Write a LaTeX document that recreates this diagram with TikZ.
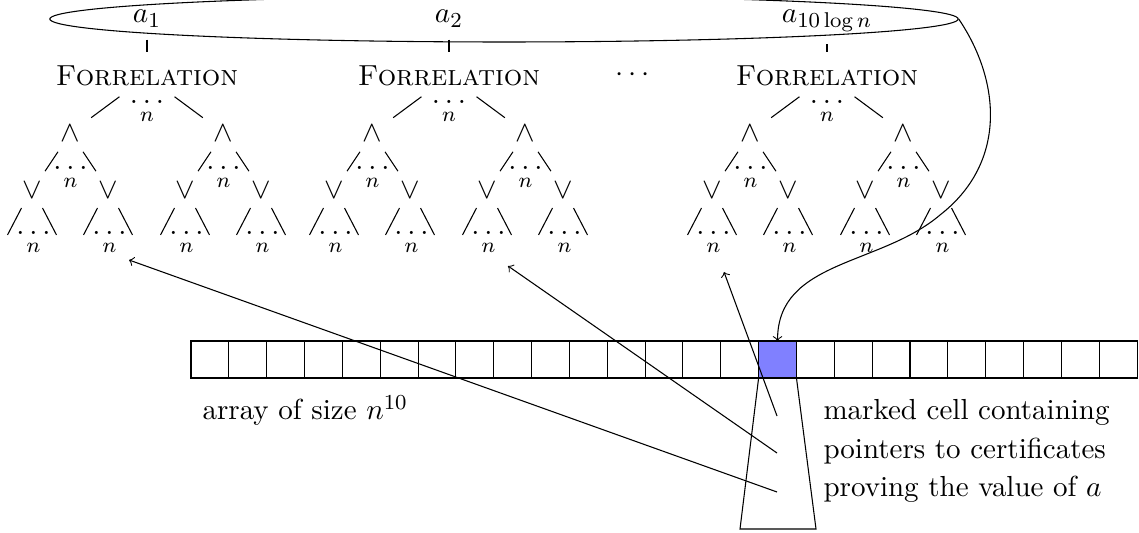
\documentclass[tikz,border=0pt]{standalone}
\usepackage{amsmath}
\usetikzlibrary{shapes.geometric,calc}
\begin{document}
\fontsize{10.85pt}{13pt}\selectfont
\begin{tikzpicture}[x=0.013158cm, y=-0.013158cm,
  lab/.style={inner sep=0pt, anchor=base},
  cell/.style={draw, inner sep=0pt, outer sep=0pt, minimum width=0.4979cm, minimum height=0.487cm, anchor=north west},
  txt/.style={anchor=base west, inner sep=0pt}]
\useasboundingbox (0,0) rectangle (1139,533);
\node[draw, ellipse, inner sep=0pt, minimum width=11.947cm, minimum height=0.605cm] (ell) at (504,19) {};
\foreach \t/\X/\lab in {1/147/1, 2/449/2, 3/827/{10\log n}}{
  \node[anchor=base] (a\t) at (\X,23) {$a_{\lab}$};
  \node[anchor=base] (F\t) at (\X,86) {\textsc{Forrelation}};
  \draw[shorten <=0.75pt, shorten >=1.5pt] (a\t) -- (F\t);
  \node[lab] (Fd\t) at (\X,103.5) {$\underset{n}{\ldots}$};
  \foreach \s/\sx in {L/-76.5, R/76.5}{
    \node (A\t\s) at ({\X+\sx},133) {$\wedge$};
    \draw ($(F\t)!0.36!(A\t\s)$) -- ($(F\t)!0.73!(A\t\s)$);
    \node[lab] (Ad\t\s) at ({\X+\sx},170) {$\underset{n}{\ldots}$};
    \foreach \r/\rx in {L/-38, R/38}{
      \node (V\t\s\r) at ({\X+\sx+\rx},190) {$\vee$};
      \draw ($(A\t\s)!0.33!(V\t\s\r)$) -- ($(A\t\s)!0.67!(V\t\s\r)$);
      \draw ($(V\t\s\r)+(-11,18)$) -- ($(V\t\s\r)+(-25,45)$);
      \draw ($(V\t\s\r)+(10,18)$) -- ($(V\t\s\r)+(24,45)$);
      \node[lab] (Vd\t\s\r) at ({\X+\sx+\rx+1},235) {$\underset{n}{\ldots}$};
    }
  }
}
\node[anchor=base] (dots) at (635,82) {$\cdots$};
% array
\foreach \i in {0,...,14,16,17,...,24}{
  \node[cell] (c\i) at ({191+37.84*\i},341) {};
}
\node[cell, fill=blue!50] (c15) at ({191+37.84*15},341) {};
\draw (c15.south west) -- (740,529) -- (816,529) -- (c15.south east);
\node[txt] (t1) at (823,420) {marked cell containing};
\node[txt] (t2) at (823,458) {pointers to certificates};
\node[txt] (t3) at (823,496) {proving the value of $a$};
\node[txt] (arr) at (202,420) {array of size $n^{10}$};
\coordinate (p1) at (777,416);
\coordinate (p2) at (777,453);
\coordinate (p3) at (777,492);
\coordinate (q1) at (724,272);
\coordinate (q2) at (508,266);
\coordinate (q3) at (129,260);
\draw[->] (p1) -- (q1);
\draw[->] (p2) -- (q2);
\draw[->] (p3) -- (q3);
\coordinate (bend) at (940,215);
\draw[->] (ell.east) .. controls (1000,80) and (1008,162) .. (bend) .. controls (880,266) and (777.5,260) .. (c15.north);
\end{tikzpicture}
\end{document}
